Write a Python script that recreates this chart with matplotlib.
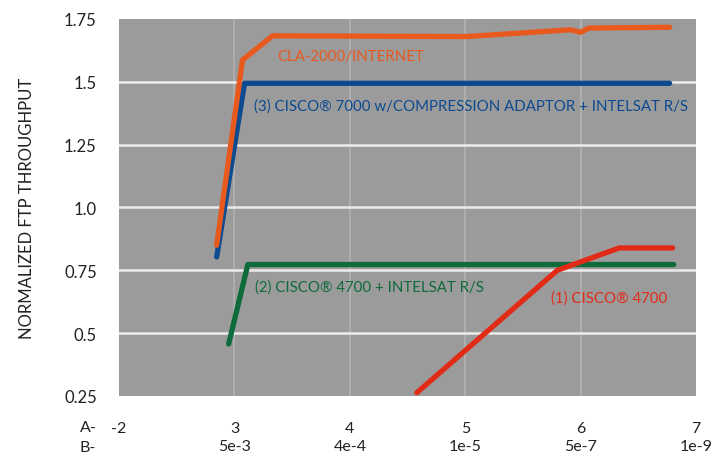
import matplotlib.pyplot as plt

# 데이터
cla_x = [2.846, 3.07, 3.33, 5.01, 5.91, 6.0, 6.07, 6.77]
cla_y = [0.85, 1.587, 1.683, 1.68, 1.707, 1.697, 1.714, 1.717]

c7000_x = [2.846, 3.087, 6.77]
c7000_y = [0.803, 1.494, 1.494]

c4700i_x = [2.95, 3.116, 6.806]
c4700i_y = [0.457, 0.773, 0.773]

c4700_x = [4.58, 5.797, 6.333, 6.797]
c4700_y = [0.263, 0.75, 0.839, 0.839]

a_ticks = [2, 3, 4, 5, 6, 7]
a_labels = ['-2', '3', '4', '5', '6', '7']
b_labels = ['', '5e-3', '4e-4', '1e-5', '5e-7', '1e-9']
y_ticks = [0.25, 0.5, 0.75, 1.0, 1.25, 1.5, 1.75]
y_labels = ['0.25', '0.5', '0.75', '1.0', '1.25', '1.5', '1.75']

plt.rcParams['font.family'] = ['Lato', 'DejaVu Sans']

fig = plt.figure(figsize=(7.14, 4.56), dpi=100)
ax = fig.add_axes([0.1667, 0.1294, 0.8083, 0.8268])
ax.set_facecolor('#9b9b9b')

for v in [3, 4, 5, 6]:
    ax.axvline(v, color='#b3b3b3', lw=1.2, zorder=1)
for v in y_ticks[1:-1]:
    ax.axhline(v, color='#ececec', lw=1.8, zorder=1)

lw = 3.8
ax.plot(c7000_x, c7000_y, color='#0d4a90', lw=lw, solid_capstyle='round', solid_joinstyle='round', zorder=3)
ax.plot(cla_x, cla_y, color='#e8591e', lw=lw, solid_capstyle='round', solid_joinstyle='round', zorder=4)
ax.plot(c4700i_x, c4700i_y, color='#0e6b3b', lw=lw, solid_capstyle='round', solid_joinstyle='round', zorder=3)
ax.plot(c4700_x, c4700_y, color='#e22b17', lw=lw, solid_capstyle='round', solid_joinstyle='round', zorder=4)

fs = 10.8
ax.text(3.374, 1.603, 'CLA-2000/INTERNET', color='#e8591e', fontsize=fs, va='center')
ax.text(3.17, 1.407, '(3) CISCO® 7000 w/COMPRESSION ADAPTOR + INTELSAT R/S',
        color='#0d4a90', fontsize=fs, va='center')
ax.text(3.18, 0.686, '(2) CISCO® 4700 + INTELSAT R/S', color='#0e6b3b', fontsize=fs, va='center')
ax.text(5.74, 0.641, '(1) CISCO® 4700', color='#e22b17', fontsize=fs, va='center')

ax.set_xlim(2, 7)
ax.set_ylim(0.25, 1.75)
ax.set_xticks(a_ticks)
ax.set_xticklabels([a + '\n' + b for a, b in zip(a_labels, b_labels)], fontsize=11.5,
                   color='#222222', linespacing=1.4)
ax.set_yticks(y_ticks)
ax.set_yticklabels(y_labels, fontsize=12, color='#222222')
ax.tick_params(axis='x', length=0, pad=18)
ax.tick_params(axis='y', length=0, pad=16)
for s in ax.spines.values():
    s.set_visible(False)

ax.set_ylabel('NORMALIZED FTP THROUGHPUT', fontsize=12, color='#222222', labelpad=21)

fig.text(88 / 714, 1 - 428 / 456, 'A-', fontsize=11.5, color='#222222', ha='center', va='center')
fig.text(88 / 714, 1 - 448 / 456, 'B-', fontsize=11.5, color='#222222', ha='center', va='center')

fig.savefig('out.png', dpi=100)
